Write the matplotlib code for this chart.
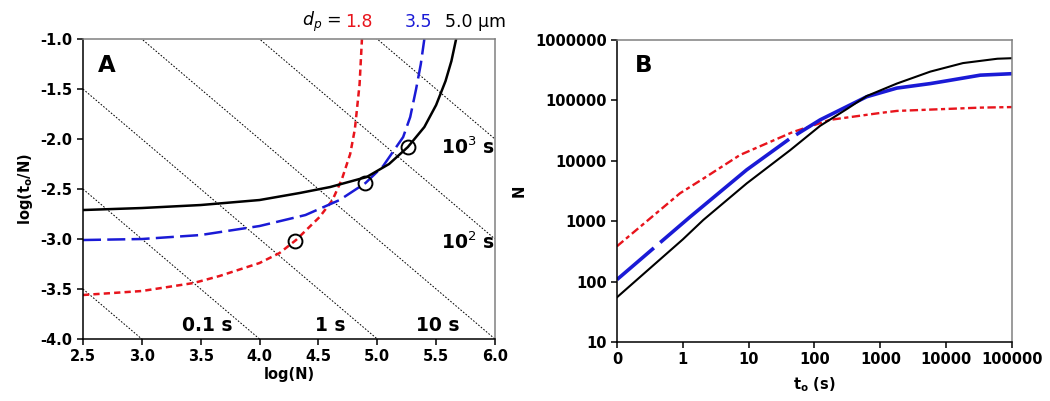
import numpy as np
import matplotlib
matplotlib.use('Agg')
import matplotlib.pyplot as plt

# ---- panel A: log(to/N) vs log(N) for three particle sizes
red_logN = [2.5, 3.0, 3.44, 3.66, 4.0, 4.17, 4.31, 4.51, 4.62, 4.7, 4.77, 4.81, 4.85, 4.87]
red_logt = [-3.56, -3.52, -3.44, -3.37, -3.24, -3.14, -3.01, -2.78, -2.61, -2.40, -2.15, -1.9, -1.45, -1.0]

blue_logN = [2.5, 3.0, 3.5, 4.0, 4.39, 4.68, 4.9, 5.05, 5.22, 5.28, 5.33, 5.37, 5.40]
blue_logt = [-3.01, -3.0, -2.96, -2.87, -2.76, -2.61, -2.44, -2.27, -1.98, -1.78, -1.50, -1.25, -1.0]

black_logN = [2.5, 3.0, 3.5, 4.0, 4.34, 4.6, 4.91, 5.1, 5.26, 5.4, 5.5, 5.58, 5.63, 5.67]
black_logt = [-2.71, -2.69, -2.66, -2.61, -2.54, -2.48, -2.38, -2.25, -2.08, -1.88, -1.66, -1.42, -1.22, -1.0]

# optimum points (open circles)
opt_logN = [4.30, 4.90, 5.26]
opt_logt = [-3.02, -2.44, -2.08]

# constant-time lines t = N * (t/N)
iso_times = [0.1, 1, 10, 100, 1000, 10000]
iso_labels = ['0.1 s', '1 s', '10 s', '10$^2$ s', '10$^3$ s']
iso_label_x = [3.56, 4.60, 5.51, 5.77, 5.77]
iso_label_y = [-3.86, -3.86, -3.86, -3.03, -2.08]

# ---- panel B: N vs to
red_t = [0.1, 0.906, 2.3, 7.4, 47, 173, 1000, 1780, 33000, 100000]
red_N = [385, 2900, 5500, 12500, 30000, 47700, 62000, 67000, 76000, 77600]

blue_t = [0.1, 1.29, 9.35, 42.7, 122, 620, 1780, 5750, 10000, 33000, 100000]
blue_N = [108, 1180, 7100, 23500, 47700, 115000, 160000, 190000, 210000, 262000, 277000]

black_t = [0.1, 1, 2.05, 9.35, 42.7, 122, 310, 620, 1780, 5750, 18000, 60000, 100000]
black_N = [55, 500, 1050, 4230, 15000, 38000, 72000, 118000, 190000, 300000, 415000, 490000, 500000]

b_xticks = [0.1, 1, 10, 100, 1000, 10000, 100000]
b_xlabels = ['0', '1', '10', '100', '1000', '10000', '100000']
b_yticks = [10, 100, 1000, 10000, 100000, 1000000]
b_ylabels = ['10', '100', '1000', '10000', '100000', '1000000']

RED = '#e8141c'
BLUE = '#1a1ad6'
GREY = '#808080'

plt.rcParams['font.family'] = 'DejaVu Sans'
plt.rcParams['lines.scale_dashes'] = False

fig = plt.figure(figsize=(10.5, 4.01), dpi=100)
axA = fig.add_axes([0.079, 0.1546, 0.3924, 0.748])
axB = fig.add_axes([0.5876, 0.1471, 0.3762, 0.7531])

for ax in (axA, axB):
    ax.spines['top'].set_color(GREY)
    ax.spines['right'].set_color(GREY)
    for s in ax.spines.values():
        s.set_linewidth(1.1)
    ax.tick_params(direction='out', length=4, width=1.1, labelsize=10.5)

# panel A
xx = np.array([2.5, 6.0])
for t in iso_times:
    axA.plot(xx, np.log10(t) - xx, color='black', lw=0.7, linestyle=(0, (1.2, 1.2)))
for lab, x, y in zip(iso_labels, iso_label_x, iso_label_y):
    axA.text(x, y, lab, ha='center', va='center', fontsize=13.5, fontweight='bold')

axA.plot(red_logN, red_logt, color=RED, lw=1.8, linestyle=(0, (4.5, 3)))
axA.plot(blue_logN, blue_logt, color=BLUE, lw=1.8, linestyle=(0, (13, 4.5)))
axA.plot(black_logN, black_logt, color='black', lw=1.8)
axA.plot(opt_logN, opt_logt, 'o', ms=10, mfc='none', mec='black', mew=1.4)

axA.set_xlim(2.5, 6.0)
axA.set_ylim(-4.0, -1.0)
axA.set_xticks(np.arange(2.5, 6.01, 0.5))
axA.set_yticks(np.arange(-4.0, -0.99, 0.5))
axA.set_xticklabels(['%.1f' % v for v in np.arange(2.5, 6.01, 0.5)], fontweight='bold')
axA.set_yticklabels(['%.1f' % v for v in np.arange(-4.0, -0.99, 0.5)], fontweight='bold')
axA.set_xlabel('log(N)', fontsize=10.5, fontweight='bold', labelpad=2)
axA.set_ylabel('log(t$_\\mathbf{o}$/N)', fontsize=10.5, fontweight='bold', labelpad=4)
axA.text(0.058, 0.913, 'A', transform=axA.transAxes, ha='center', va='center',
         fontsize=16.5, fontweight='bold')

# size legend above panel A
fy = 1 - 22 / 401
fig.text(302 / 1050, fy, r'$d_p$ =', fontsize=12.5, va='center')
fig.text(345 / 1050, fy, '1.8', fontsize=12.5, color=RED, va='center')
fig.text(405 / 1050, fy, '3.5', fontsize=12.5, color=BLUE, va='center')
fig.text(445 / 1050, fy, '5.0 \u03bcm', fontsize=12.5, va='center')

# panel B
axB.plot(red_t, red_N, color=RED, lw=1.7, linestyle=(0, (6, 2.5, 3, 2.5)))
axB.plot(blue_t, blue_N, color=BLUE, lw=2.6, linestyle=(0, (35, 6, 119, 6, 2000, 1)))
axB.plot(black_t, black_N, color='black', lw=1.5)

axB.set_xscale('log')
axB.set_yscale('log')
axB.set_xlim(0.1, 100000)
axB.set_ylim(10, 1000000)
axB.set_xticks(b_xticks)
axB.set_xticklabels(b_xlabels, fontweight='bold')
axB.set_yticks(b_yticks)
axB.set_yticklabels(b_ylabels, fontweight='bold')
axB.minorticks_off()
axB.set_xlabel('t$_\\mathbf{o}$ (s)', fontsize=10.5, fontweight='bold', labelpad=6)
axB.set_ylabel('N', fontsize=10.5, fontweight='bold', labelpad=6)
axB.text(0.067, 0.917, 'B', transform=axB.transAxes, ha='center', va='center',
         fontsize=16.5, fontweight='bold')

fig.savefig('out.png', dpi=100)
